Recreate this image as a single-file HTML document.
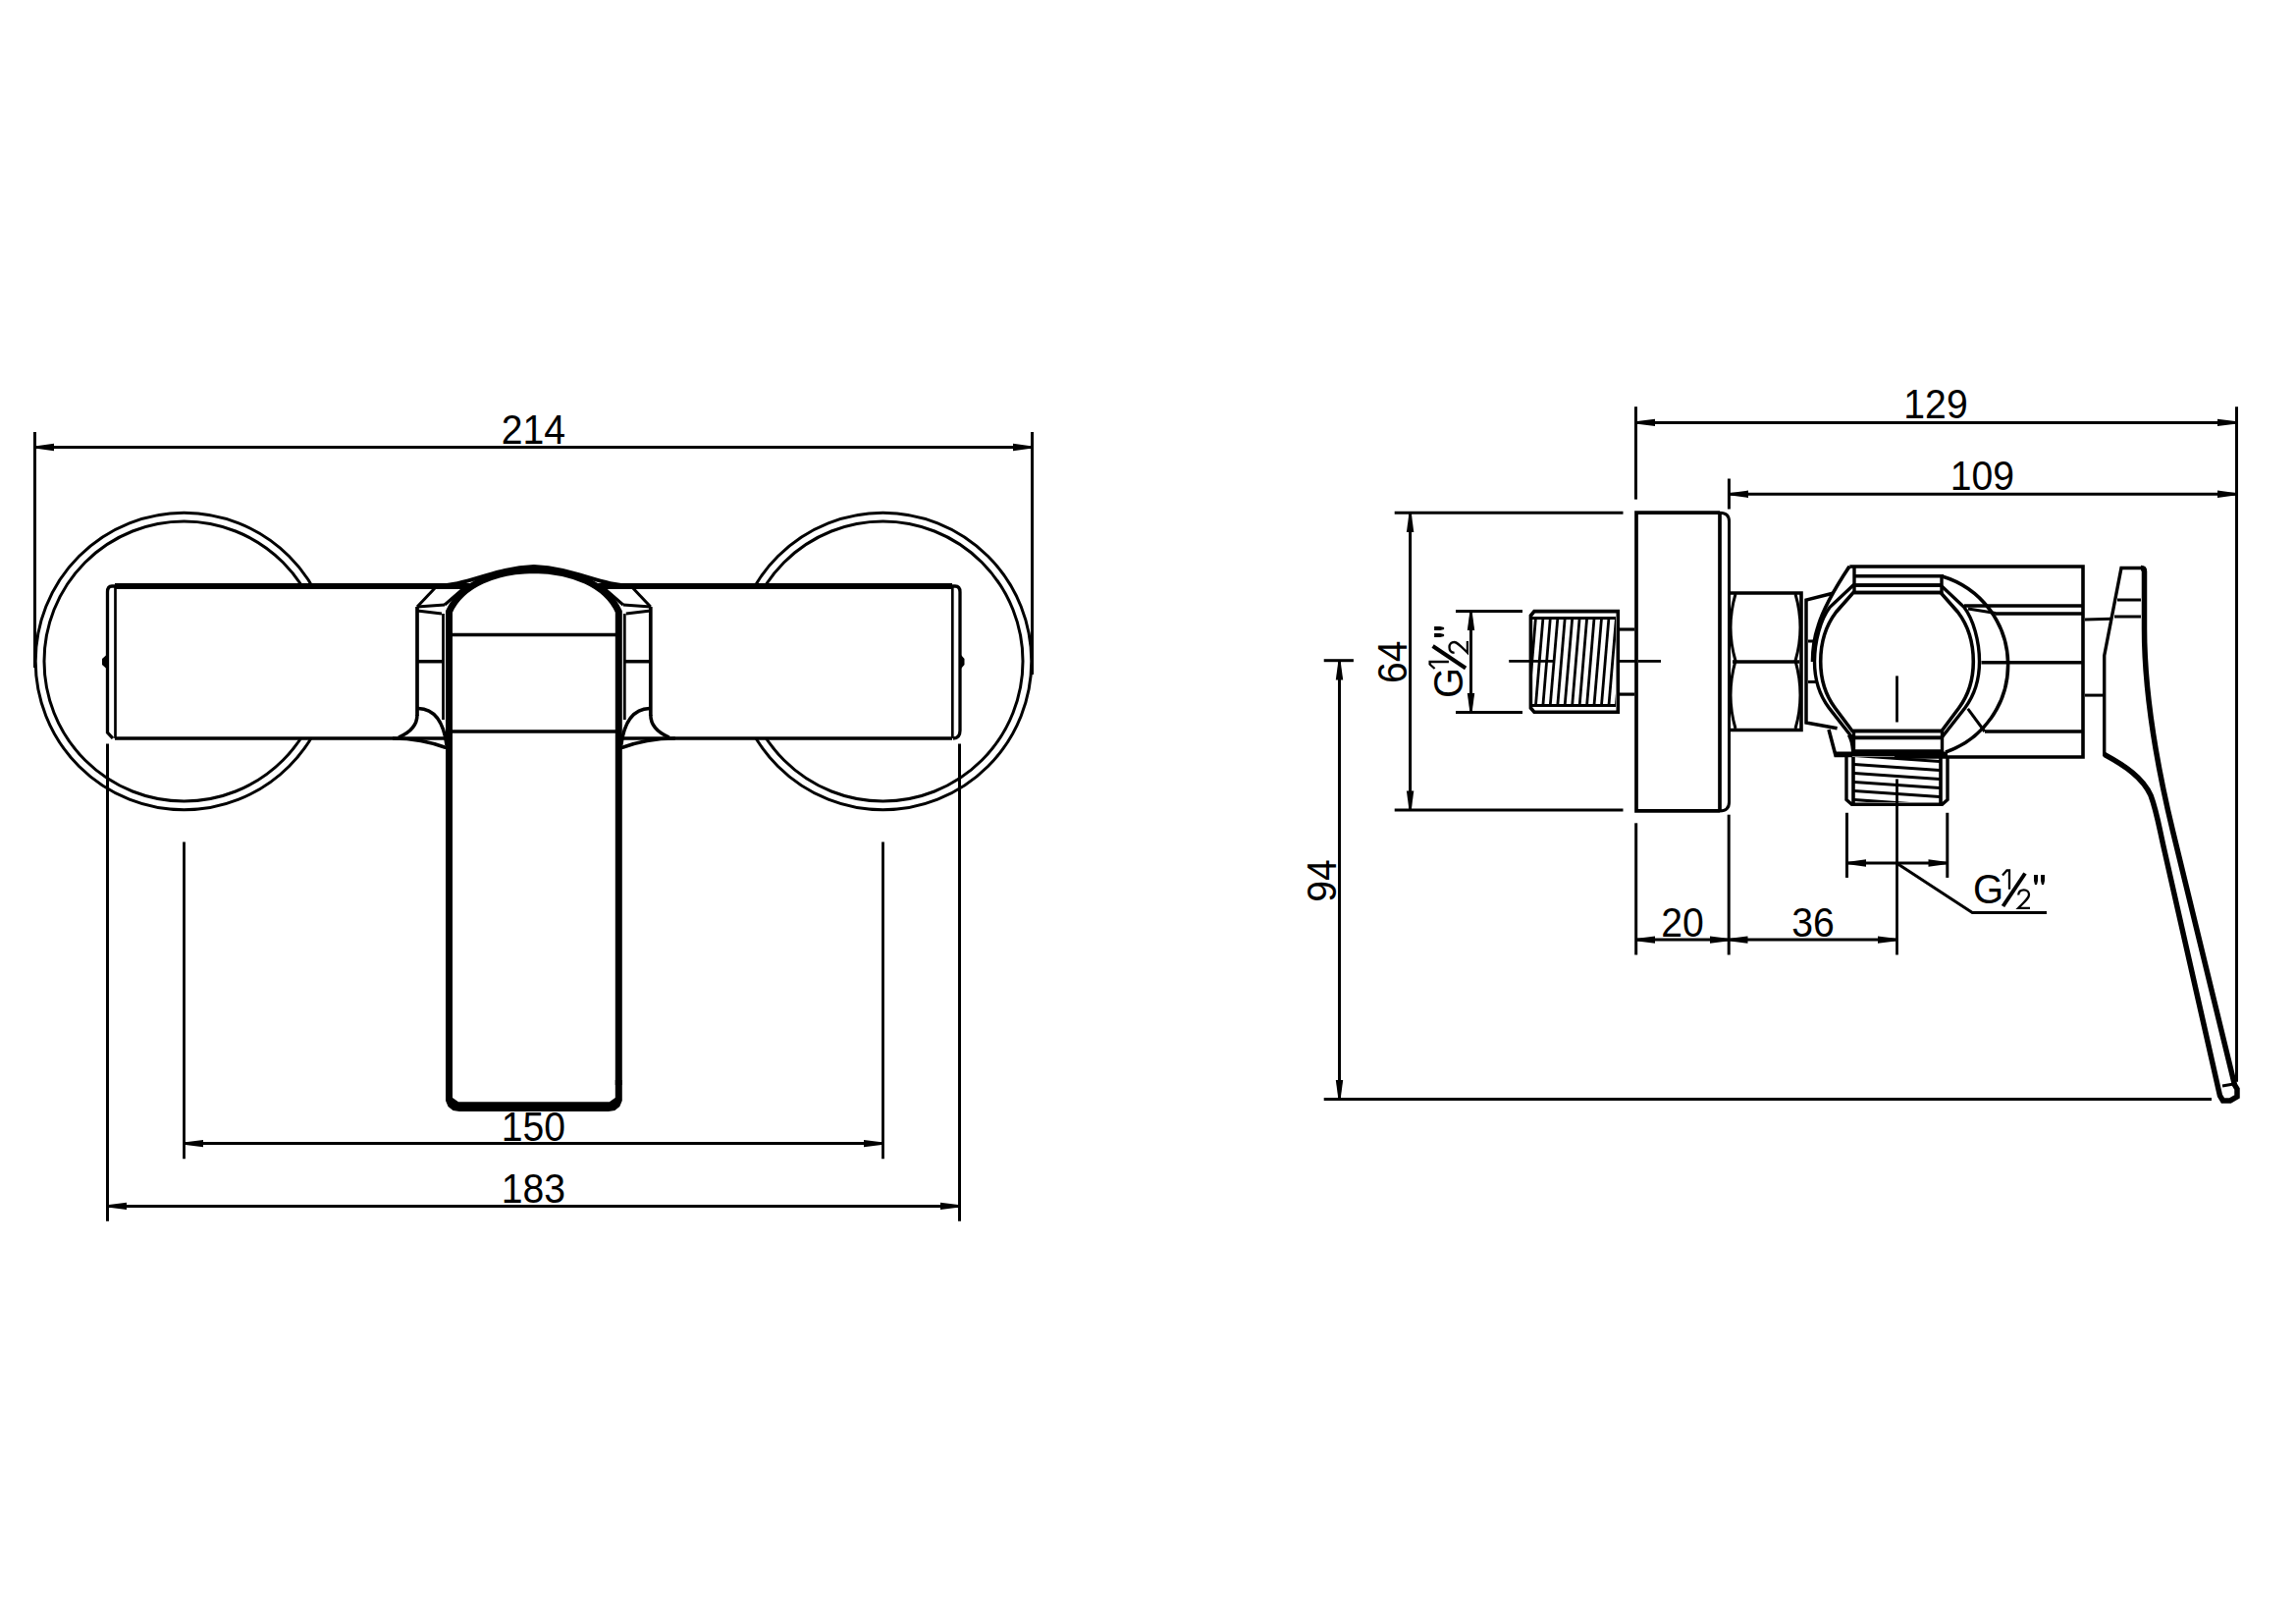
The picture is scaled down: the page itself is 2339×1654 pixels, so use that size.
<!DOCTYPE html>
<html><head><meta charset="utf-8"><style>
html,body{margin:0;padding:0;background:#fff;}
svg{display:block;}
text{font-family:"Liberation Sans",sans-serif;fill:#000;stroke:none;}
</style></head><body>
<svg width="2339" height="1654" viewBox="0 0 2339 1654" stroke="#000" fill="#000" stroke-linecap="butt">
<rect x="0" y="0" width="2339" height="1654" fill="#fff" stroke="none"/>
<line x1="35.5" y1="440" x2="35.5" y2="680" stroke-width="3"/>
<line x1="1051.5" y1="440" x2="1051.5" y2="687" stroke-width="3"/>
<line x1="35.5" y1="455.5" x2="1051.5" y2="455.5" stroke-width="3"/>
<polygon points="37.0,454.2 55.0,451.8 55.0,459.2 37.0,456.8" stroke="none"/>
<polygon points="1050.0,454.2 1032.0,451.8 1032.0,459.2 1050.0,456.8" stroke="none"/>
<text x="0" y="0" font-size="43" text-anchor="middle" transform="translate(543.4 451.9) scale(0.91 1)">214</text>
<circle cx="187.5" cy="673.5" r="151.3" fill="none" stroke-width="3"/>
<circle cx="187.5" cy="673.5" r="142.5" fill="none" stroke-width="3"/>
<circle cx="899.5" cy="673.5" r="151.3" fill="none" stroke-width="3"/>
<circle cx="899.5" cy="673.5" r="142.5" fill="none" stroke-width="3"/>
<rect x="109.5" y="597" width="868" height="155" fill="#fff" stroke="none"/>
<line x1="117" y1="597" x2="970" y2="597" stroke-width="6"/>
<line x1="117" y1="752" x2="970" y2="752" stroke-width="3.7"/>
<path d="M117,597 L114,597 Q109.5,597 109.5,603 L109.5,746 L115,752" stroke-width="3.3" fill="none"/>
<line x1="117.5" y1="597" x2="117.5" y2="752" stroke-width="2.7"/>
<polygon points="108.5,667 104,671 104,677 108.5,681" stroke="none"/>
<path d="M970,597 L973,597 Q978,597 978,603 L978,744 Q978,752 971,752" stroke-width="3.3" fill="none"/>
<line x1="970.3" y1="597" x2="970.3" y2="752" stroke-width="2.7"/>
<polygon points="979,667 982.5,671 982.5,677 979,681" stroke="none"/>
<line x1="109.5" y1="757.6" x2="109.5" y2="1243.7" stroke-width="3"/>
<line x1="977.5" y1="757.6" x2="977.5" y2="1243.7" stroke-width="3"/>
<line x1="187.5" y1="857.4" x2="187.5" y2="1180.3" stroke-width="2.8"/>
<line x1="899.5" y1="857.4" x2="899.5" y2="1180.3" stroke-width="2.8"/>
<line x1="187.5" y1="1164.6" x2="899.5" y2="1164.6" stroke-width="3"/>
<polygon points="189.0,1163.3 207.0,1160.9 207.0,1168.3 189.0,1165.9" stroke="none"/>
<polygon points="898.0,1163.3 880.0,1160.9 880.0,1168.3 898.0,1165.9" stroke="none"/>
<line x1="109.5" y1="1228.4" x2="977.5" y2="1228.4" stroke-width="3"/>
<polygon points="111.0,1227.1 129.0,1224.7 129.0,1232.1 111.0,1229.7" stroke="none"/>
<polygon points="976.0,1227.1 958.0,1224.7 958.0,1232.1 976.0,1229.7" stroke="none"/>
<text x="0" y="0" font-size="43" text-anchor="middle" transform="translate(543.4 1161.7) scale(0.91 1)">150</text>
<text x="0" y="0" font-size="43" text-anchor="middle" transform="translate(543.4 1224.8) scale(0.91 1)">183</text>
<line x1="425" y1="618" x2="425" y2="729" stroke-width="3.7"/>
<line x1="443" y1="599" x2="425" y2="618" stroke-width="3"/>
<line x1="425" y1="618" x2="453" y2="616" stroke-width="3"/>
<line x1="425" y1="622" x2="450" y2="625" stroke-width="3"/>
<line x1="476" y1="596" x2="453" y2="616" stroke-width="3"/>
<line x1="451.5" y1="625" x2="451.5" y2="733" stroke-width="2.8"/>
<line x1="425" y1="673.7" x2="451" y2="673.7" stroke-width="3.5"/>
<path d="M425,728 Q425,743 406,751" stroke-width="3.5" fill="none"/>
<path d="M426,721.5 C442,722 452,735 455,759" stroke-width="3.5" fill="none"/>
<path d="M400,752 C420,752 440,756 456,762" stroke-width="3.5" fill="none"/>
<line x1="662.8" y1="618" x2="662.8" y2="729" stroke-width="3.7"/>
<line x1="644.8" y1="599" x2="662.8" y2="618" stroke-width="3"/>
<line x1="662.8" y1="618" x2="634.8" y2="616" stroke-width="3"/>
<line x1="662.8" y1="622" x2="637.8" y2="625" stroke-width="3"/>
<line x1="611.8" y1="596" x2="634.8" y2="616" stroke-width="3"/>
<line x1="636.3" y1="625" x2="636.3" y2="733" stroke-width="2.8"/>
<line x1="662.8" y1="673.7" x2="636.8" y2="673.7" stroke-width="3.5"/>
<path d="M662.8,728 Q662.8,743 681.8,751" stroke-width="3.5" fill="none"/>
<path d="M661.8,721.5 C645.8,722 635.8,735 632.8,759" stroke-width="3.5" fill="none"/>
<path d="M687.8,752 C667.8,752 647.8,756 631.8,762" stroke-width="3.5" fill="none"/>
<path d="M440,597 C478,597 500,579 543.9,577 C587.8,579 609.8,597 647.8,597" stroke-width="4" fill="none"/>
<path d="M457.5,623 C470,595 505,581 543.9,580.5 C582.8,581 617.8,595 630.3,623 L630.3,1115 Q630.3,1127 618.3,1127 L469.5,1127 Q457.5,1127 457.5,1115 Z" fill="#fff" stroke="none"/>
<path d="M457.5,1105 L457.5,623 C470,595 505,581 543.9,580.5 C582.8,581 617.8,595 630.3,623 L630.3,1105" stroke-width="7" fill="none"/>
<polygon points="454.0,1100 454.0,1121 456.5,1127 461.5,1131 468.0,1132 619.8,1132 626.3,1131 631.3,1127 633.8,1121 633.8,1100 626.8,1100 626.8,1118 620.8,1122.2 467.0,1122.2 461.0,1118 461.0,1100" stroke="none"/>
<line x1="461" y1="646.5" x2="627" y2="646.5" stroke-width="3.5"/>
<line x1="461" y1="745" x2="627" y2="745" stroke-width="3.5"/>
<line x1="1666.5" y1="414.2" x2="1666.5" y2="508.6" stroke-width="3"/>
<line x1="2278.5" y1="414.2" x2="2278.5" y2="1101.8" stroke-width="3"/>
<line x1="1666.5" y1="430.4" x2="2278.5" y2="430.4" stroke-width="3"/>
<polygon points="1668.0,429.1 1686.0,426.7 1686.0,434.1 1668.0,431.7" stroke="none"/>
<polygon points="2277.0,429.1 2259.0,426.7 2259.0,434.1 2277.0,431.7" stroke="none"/>
<text x="0" y="0" font-size="43" text-anchor="middle" transform="translate(1972 425.9) scale(0.91 1)">129</text>
<line x1="1761.4" y1="487.5" x2="1761.4" y2="518.5" stroke-width="3"/>
<line x1="1761.4" y1="503.2" x2="2278.5" y2="503.2" stroke-width="3"/>
<polygon points="1763.0,501.9 1781.0,499.5 1781.0,506.9 1763.0,504.5" stroke="none"/>
<polygon points="2277.0,501.9 2259.0,499.5 2259.0,506.9 2277.0,504.5" stroke="none"/>
<text x="0" y="0" font-size="43" text-anchor="middle" transform="translate(2019.4 498.7) scale(0.91 1)">109</text>
<path d="M1752,522.2 L1667,522.2 L1667,825.9 L1752,825.9" stroke-width="3.7" fill="none"/>
<path d="M1752,522.2 Q1761.5,522.2 1761.5,531 L1761.5,817 Q1761.5,825.9 1752,825.9" stroke-width="3" fill="none"/>
<line x1="1752" y1="522.2" x2="1752" y2="825.9" stroke-width="3.7"/>
<line x1="1420.7" y1="522.2" x2="1653.5" y2="522.2" stroke-width="3"/>
<line x1="1420.7" y1="825.1" x2="1653.5" y2="825.1" stroke-width="3"/>
<line x1="1436.6" y1="522.2" x2="1436.6" y2="825.1" stroke-width="3"/>
<polygon points="1435.3,524.0 1432.9,542.0 1440.3,542.0 1437.9,524.0" stroke="none"/>
<polygon points="1435.3,823.5 1432.9,805.5 1440.3,805.5 1437.9,823.5" stroke="none"/>
<text x="0" y="0" font-size="43" text-anchor="middle" transform="translate(1433.1 674.3) rotate(-90) scale(0.91 1)">64</text>
<line x1="1348.7" y1="672.7" x2="1378.9" y2="672.7" stroke-width="3"/>
<line x1="1364.5" y1="672.7" x2="1364.5" y2="1119.5" stroke-width="3"/>
<polygon points="1363.2,674.5 1360.8,692.5 1368.2,692.5 1365.8,674.5" stroke="none"/>
<polygon points="1363.2,1118.0 1360.8,1100.0 1368.2,1100.0 1365.8,1118.0" stroke="none"/>
<line x1="1348.7" y1="1119.5" x2="2253" y2="1119.5" stroke-width="3"/>
<text x="0" y="0" font-size="43" text-anchor="middle" transform="translate(1361 897) rotate(-90) scale(0.91 1)">94</text>
<line x1="1483" y1="622.4" x2="1551" y2="622.4" stroke-width="3"/>
<line x1="1483" y1="725.5" x2="1551" y2="725.5" stroke-width="3"/>
<line x1="1498.5" y1="622.4" x2="1498.5" y2="725.5" stroke-width="3"/>
<polygon points="1497.2,624.0 1494.8,642.0 1502.2,642.0 1499.8,624.0" stroke="none"/>
<polygon points="1497.2,724.0 1494.8,706.0 1502.2,706.0 1499.8,724.0" stroke="none"/>
<path d="M1563,622.6 L1648.3,622.6 L1648.3,725.3 L1563,725.3 L1559.4,721 L1559.4,627 Z" stroke-width="3.6" fill="none"/>
<line x1="1560" y1="629.4" x2="1646" y2="629.4" stroke-width="3"/>
<line x1="1560" y1="718.5" x2="1646" y2="718.5" stroke-width="3"/>
<clipPath id="cc"><rect x="1561" y="630" width="85" height="88"/></clipPath>
<g clip-path="url(#cc)" stroke-width="2.8"><line x1="1557.0" y1="630" x2="1549.5" y2="718"/><line x1="1564.4" y1="630" x2="1557.0" y2="718"/><line x1="1571.9" y1="630" x2="1564.5" y2="718"/><line x1="1579.3" y1="630" x2="1571.9" y2="718"/><line x1="1586.8" y1="630" x2="1579.3" y2="718"/><line x1="1594.2" y1="630" x2="1586.8" y2="718"/><line x1="1601.7" y1="630" x2="1594.2" y2="718"/><line x1="1609.1" y1="630" x2="1601.7" y2="718"/><line x1="1616.6" y1="630" x2="1609.2" y2="718"/><line x1="1624.0" y1="630" x2="1616.6" y2="718"/><line x1="1631.5" y1="630" x2="1624.0" y2="718"/><line x1="1638.9" y1="630" x2="1631.5" y2="718"/><line x1="1646.4" y1="630" x2="1639.0" y2="718"/><line x1="1653.8" y1="630" x2="1646.4" y2="718"/><line x1="1661.2" y1="630" x2="1653.8" y2="718"/></g>
<line x1="1537.2" y1="673.4" x2="1583.2" y2="673.4" stroke-width="2.8"/>
<line x1="1650" y1="673.4" x2="1666" y2="673.4" stroke-width="2.8"/>
<line x1="1669" y1="673.4" x2="1692" y2="673.4" stroke-width="2.8"/>
<line x1="1650" y1="641" x2="1665" y2="641" stroke-width="3.2"/>
<line x1="1650" y1="707.1" x2="1665" y2="707.1" stroke-width="3.2"/>
<path d="M1761.5,604 L1835,604 L1835,743.5 L1761.5,743.5" stroke-width="3.6" fill="none"/>
<line x1="1765" y1="674" x2="1833" y2="674" stroke-width="3.6"/>
<path d="M1768,605 Q1758,639 1768,673 Q1758,708 1768,742" stroke-width="3" fill="none"/>
<path d="M1829,605 Q1839,639 1829,673 Q1839,708 1829,742" stroke-width="3" fill="none"/>
<path d="M1867,604.3 L1840,611 L1840,736 L1871.6,741.7" stroke-width="3.5" fill="none"/>
<line x1="1842" y1="653" x2="1850" y2="653" stroke-width="3"/>
<line x1="1842" y1="694.5" x2="1850" y2="694.5" stroke-width="3"/>
<path d="M1884.3,577 L2122,577 L2122,771 L1930,771" stroke-width="3.6" fill="none"/>
<path d="M1884.3,577 L1881.7,580" stroke-width="3" fill="none"/>
<line x1="2001" y1="617" x2="2122" y2="617" stroke-width="3.4"/>
<line x1="2005" y1="620" x2="2033" y2="624.5" stroke-width="3"/>
<line x1="2033" y1="625" x2="2122" y2="625" stroke-width="3.4"/>
<line x1="2018.5" y1="674.7" x2="2122" y2="674.7" stroke-width="3.4"/>
<line x1="2022" y1="745" x2="2122" y2="745" stroke-width="3.4"/>
<line x1="1889" y1="578" x2="1889" y2="604" stroke-width="3.4"/>
<line x1="1889" y1="586.8" x2="1980" y2="586.8" stroke-width="3.6"/>
<line x1="1889" y1="596" x2="1977" y2="596" stroke-width="3.6"/>
<line x1="1889" y1="603.5" x2="1977" y2="603.5" stroke-width="3.6"/>
<line x1="1888" y1="744.5" x2="1978" y2="744.5" stroke-width="3.6"/>
<line x1="1888" y1="751.4" x2="1978" y2="751.4" stroke-width="3.6"/>
<line x1="1888" y1="765" x2="1978" y2="765" stroke-width="3.6"/>
<path d="M1888.0,603.5 L1977.0,603.5 L1994.6,623.5 C2004.1,636.0 2010.3,653 2010.3,673.8 C2010.3,694 2004.6,709.0 1995.6,721.0 L1978.0,744.5 L1887.0,744.5 L1869.4,721.0 C1860.4,709.0 1854.7,694 1854.7,673.8 C1854.7,653 1860.9,636.0 1870.4,623.5 Z" stroke-width="3.6" fill="none"/>
<path d="M1888.0,596 L1977.0,596 L2000.8,618.3 C2010.3,630.8 2016.5,653 2016.5,673.8 C2016.5,694 2010.8,708.9 2001.8,720.9 L1978.0,751.4 L1887.0,751.4 L1863.2,720.9 C1854.2,708.9 1848.5,694 1848.5,673.8 C1848.5,653 1854.7,630.8 1864.2,618.3 Z" stroke-width="3.4" fill="none"/>
<path d="M1884,577 C1870,598 1858,618 1852,638 C1848,650 1846.5,660 1846.5,674" stroke-width="3.6" fill="none"/>
<path d="M1883.2,748.6 C1886,753 1887,758 1887.5,766" stroke-width="3" fill="none"/>
<line x1="1888.5" y1="744" x2="1888.5" y2="770" stroke-width="3.4"/>
<line x1="1978.5" y1="744" x2="1978.5" y2="770" stroke-width="3.4"/>
<line x1="1978" y1="587" x2="1978" y2="604" stroke-width="3.4"/>
<line x1="2004.7" y1="721.8" x2="2021.8" y2="745" stroke-width="3"/>
<path d="M1978.6,587 A94,94 0 0 1 1982,766" stroke-width="3.6" fill="none"/>
<line x1="1932.5" y1="688.4" x2="1932.5" y2="735.5" stroke-width="2.8"/>
<path d="M1863,743 L1870,769.5 L1887,769.5" stroke-width="3.6" fill="none"/>
<path d="M1881,771 L1881,814.4 L1886.5,819.3 L1978.5,819.3 L1984,814.4 L1984,771" stroke-width="3.4" fill="none"/>
<line x1="1888" y1="771" x2="1888" y2="818" stroke-width="3.6"/>
<line x1="1977" y1="771" x2="1977" y2="818" stroke-width="3.6"/>
<line x1="1870" y1="768" x2="1984" y2="768" stroke-width="5"/>
<clipPath id="cd"><rect x="1889" y="771" width="87" height="46"/></clipPath>
<g clip-path="url(#cd)" stroke-width="3"><line x1="1889" y1="769.6" x2="1976" y2="775.6"/><line x1="1889" y1="778.6" x2="1976" y2="784.6"/><line x1="1889" y1="787.6" x2="1976" y2="793.6"/><line x1="1889" y1="796.6" x2="1976" y2="802.6"/><line x1="1889" y1="805.6" x2="1976" y2="811.6"/><line x1="1889" y1="814.6" x2="1976" y2="820.6"/><line x1="1889" y1="823.6" x2="1976" y2="829.6"/></g>
<line x1="1932.5" y1="793.4" x2="1932.5" y2="972.5" stroke-width="2.8"/>
<line x1="1881.5" y1="827.8" x2="1881.5" y2="893.9" stroke-width="3"/>
<line x1="1983.8" y1="827.8" x2="1983.8" y2="893.9" stroke-width="3"/>
<line x1="1881.5" y1="879" x2="1983.8" y2="879" stroke-width="3"/>
<polygon points="1883.0,877.7 1901.0,875.3 1901.0,882.7 1883.0,880.3" stroke="none"/>
<polygon points="1982.5,877.7 1964.5,875.3 1964.5,882.7 1982.5,880.3" stroke="none"/>
<path d="M1932,879 L2009.3,929.4 L2085,929.4" stroke-width="3" fill="none"/>
<line x1="1666.7" y1="838.3" x2="1666.7" y2="972.5" stroke-width="3"/>
<line x1="1761.2" y1="829.7" x2="1761.2" y2="972.5" stroke-width="3"/>
<line x1="1666.7" y1="957.1" x2="1932.5" y2="957.1" stroke-width="3"/>
<polygon points="1668.0,955.8 1686.0,953.4 1686.0,960.8 1668.0,958.4" stroke="none"/>
<polygon points="1760.0,955.8 1742.0,953.4 1742.0,960.8 1760.0,958.4" stroke="none"/>
<polygon points="1762.5,955.8 1780.5,953.4 1780.5,960.8 1762.5,958.4" stroke="none"/>
<polygon points="1931.0,955.8 1913.0,953.4 1913.0,960.8 1931.0,958.4" stroke="none"/>
<text x="0" y="0" font-size="43" text-anchor="middle" transform="translate(1714 954.3) scale(0.91 1)">20</text>
<text x="0" y="0" font-size="43" text-anchor="middle" transform="translate(1846.9 954.3) scale(0.91 1)">36</text>
<line x1="2124" y1="631" x2="2151" y2="630.2" stroke-width="3"/>
<line x1="2124" y1="708.1" x2="2142.6" y2="708.1" stroke-width="3"/>
<path d="M2143.7,770 L2143.7,667.8 L2161,578.5 L2183,578.5" stroke-width="3.4" fill="none"/>
<path d="M2181,578.5 Q2184.5,578.5 2184.5,582 L2184.5,640 C2184.5,700 2195,770 2213.4,846 L2276.5,1105 L2279,1109 L2279,1117 L2272,1121 L2264.5,1121 L2261.5,1116 L2204,862 C2199.5,842 2197,826 2191,810 C2183,792 2165,780 2143.7,768.4" stroke-width="5.5" fill="none"/>
<line x1="2264" y1="1106" x2="2275.5" y2="1104" stroke-width="3"/>
<line x1="2157" y1="611" x2="2181" y2="611" stroke-width="3"/>
<line x1="2154" y1="628" x2="2181" y2="628" stroke-width="3"/>
<g><text x="0" y="0" font-size="43" text-anchor="start" transform="translate(2010 919.9) scale(0.93 1)">G</text><path d="M2047,905.8 L2047,886.5 L2044.5,886.5 L2040,891.5" stroke-width="2.3" fill="none"/><line x1="2040.5" y1="923" x2="2063" y2="889.5" stroke-width="4"/><path d="M2056.2,911.5 C2056.5,907.5 2059,906.4 2061.8,906.4 C2065,906.4 2067,908.5 2067,911.3 C2067,914.5 2064,917 2056.2,924.8 L2068,924.8" stroke-width="2.3" fill="none"/><polygon points="2072,891 2076,891 2076,897 2075,901 2073,901 2072,897" stroke="none"/><polygon points="2079,891 2083,891 2083,897 2082,901 2080,901 2079,897" stroke="none"/></g>
<g transform="matrix(0,-1,1,0,570.1,2721)"><text x="0" y="0" font-size="43" text-anchor="start" transform="translate(2010 919.9) scale(0.93 1)">G</text><path d="M2047,905.8 L2047,886.5 L2044.5,886.5 L2040,891.5" stroke-width="2.3" fill="none"/><line x1="2040.5" y1="923" x2="2063" y2="889.5" stroke-width="4"/><path d="M2056.2,911.5 C2056.5,907.5 2059,906.4 2061.8,906.4 C2065,906.4 2067,908.5 2067,911.3 C2067,914.5 2064,917 2056.2,924.8 L2068,924.8" stroke-width="2.3" fill="none"/><polygon points="2072,891 2076,891 2076,897 2075,901 2073,901 2072,897" stroke="none"/><polygon points="2079,891 2083,891 2083,897 2082,901 2080,901 2079,897" stroke="none"/></g>
</svg></body></html>
